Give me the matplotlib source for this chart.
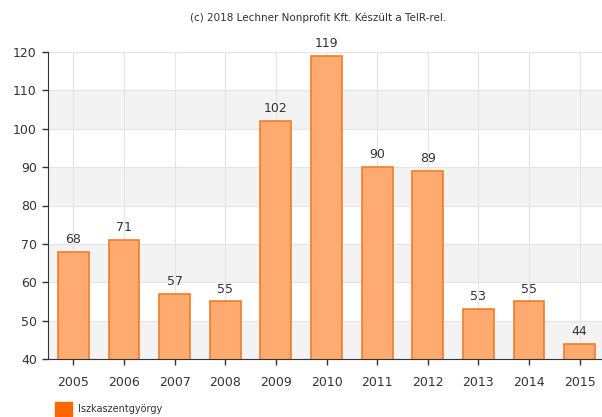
import matplotlib.pyplot as plt
import numpy as np

years = ['2005', '2006', '2007', '2008', '2009', '2010', '2011', '2012', '2013', '2014', '2015']
values = [68, 71, 57, 55, 102, 119, 90, 89, 53, 55, 44]
series_name = 'Iszkaszentgyörgy'
title = '(c) 2018 Lechner Nonprofit Kft. Készült a TeIR-rel.'

plt.rcParams['font.family'] = ['Verdana', 'DejaVu Sans']

fig = plt.figure(figsize=(6.02, 4.17), dpi=100)
ax = fig.add_axes([48 / 602, 1 - 359 / 417, 557 / 602, 307 / 417])

# alternating bands
for lo in range(40, 120, 20):
    ax.axhspan(lo, lo + 10, color='#f3f3f3', zorder=0, lw=0)
for y in range(50, 121, 10):
    ax.axhline(y, color='#e4e4e4', lw=0.8, zorder=0.5)
ind = np.arange(len(years))
for x in ind:
    ax.axvline(x, color='#e4e4e4', lw=0.8, zorder=0.5)

rects = ax.bar(ind, values, width=0.61, bottom=0, color='#ffaa70',
               edgecolor='#f57a28', linewidth=1.2, zorder=2)
for i, rect in enumerate(rects):
    ax.text(rect.get_x() + rect.get_width() / 2, values[i] + 1.5, str(values[i]),
            ha='center', va='bottom', fontsize=9, color='#333333')

ax.set_ylim(40, 120)
ax.set_xlim(-0.5, len(years) - 0.5)
ax.set_yticks(range(40, 121, 10))
ax.set_xticks(ind)
ax.set_xticklabels(years)
ax.tick_params(axis='both', labelsize=9, colors='#333333', length=4, width=1)
ax.tick_params(axis='x', pad=8)
ax.tick_params(axis='y', pad=4)
for s in ['top', 'right']:
    ax.spines[s].set_visible(False)
ax.spines['left'].set_color('#333333')
ax.spines['bottom'].set_color('#333333')

fig.text(318 / 602, 1 - 18 / 417, title, ha='center', va='center', fontsize=7.5, color='#333333')

# legend
fig.patches.append(plt.Rectangle((55 / 602, 1 - 416 / 417), 17 / 602, 14 / 417,
                                 transform=fig.transFigure, color='#ff6600'))
fig.text(78 / 602, 1 - 409 / 417, series_name, ha='left', va='center', fontsize=7, color='#333333')

fig.savefig('out.png', dpi=100)
